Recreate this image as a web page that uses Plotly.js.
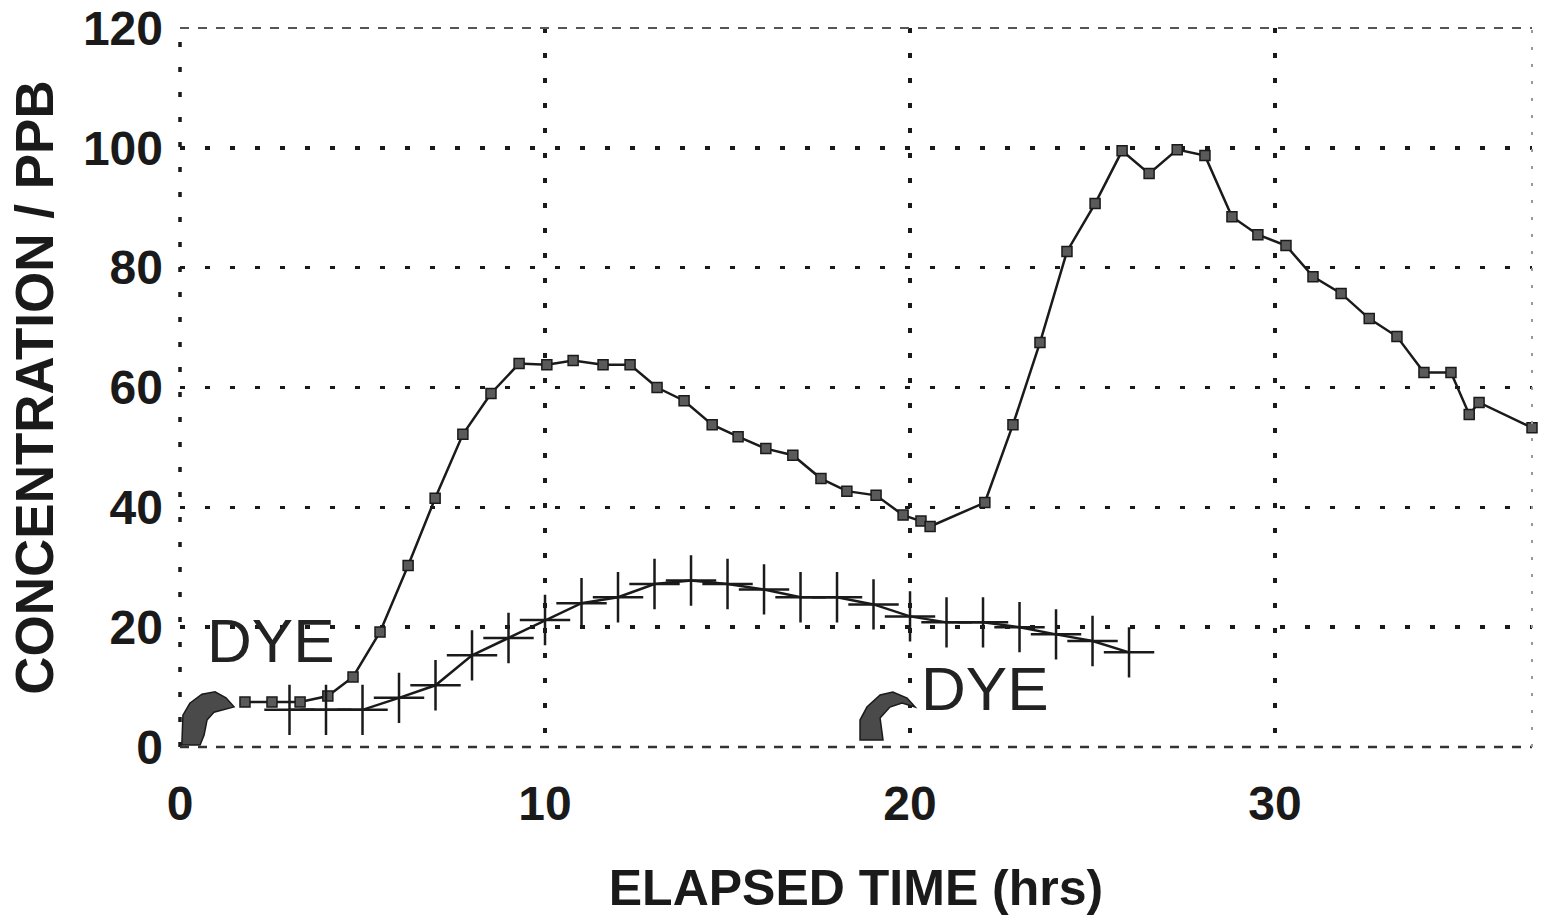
<!DOCTYPE html>
<html>
<head>
<meta charset="utf-8">
<script src="https://cdn.plot.ly/plotly-3.0.1.min.js"></script>
<style>
  html, body { margin: 0; padding: 0; background: #ffffff; }
  #chart { width: 1541px; height: 917px; }
</style>
</head>
<body>
<div id="chart"></div>
<script>
// Square-marker series (upper curve)
const squareHours = [1.78, 2.52, 3.29, 4.05, 4.74, 5.48, 6.25, 6.99, 7.75, 8.52, 9.29, 10.05, 10.77, 11.59, 12.33, 13.07, 13.81, 14.58, 15.29, 16.05, 16.79, 17.56, 18.27, 19.07, 19.81, 20.30, 20.55, 22.05, 22.82, 23.56, 24.30, 25.07, 25.81, 26.55, 27.32, 28.08, 28.82, 29.53, 30.30, 31.04, 31.81, 32.58, 33.34, 34.08, 34.82, 35.32, 35.59, 37.04];
const squarePPB   = [7.5, 7.5, 7.5, 8.5, 11.7, 19.2, 30.3, 41.5, 52.2, 59.0, 64.0, 63.8, 64.5, 63.8, 63.8, 60.0, 57.8, 53.8, 51.8, 49.8, 48.7, 44.8, 42.7, 42.0, 38.7, 37.7, 36.8, 40.8, 53.8, 67.5, 82.7, 90.7, 99.5, 95.7, 99.7, 98.7, 88.5, 85.5, 83.7, 78.5, 75.7, 71.5, 68.5, 62.5, 62.5, 55.5, 57.5, 53.3];

// Cross-marker series (lower curve)
const crossHours = [3, 4, 5, 6, 7, 8, 9, 10, 11, 12, 13, 14, 15, 16, 17, 18, 19, 20, 21, 22, 23, 24, 25, 26];
const crossPPB   = [6.2, 6.2, 6.2, 8.2, 10.3, 15.3, 18.2, 21.2, 24.0, 25.0, 27.2, 27.8, 27.2, 26.3, 25.0, 25.0, 23.8, 21.8, 20.8, 20.8, 20.0, 18.8, 17.7, 15.8];

// Axes
const xTicks = [0, 10, 20, 30];
const yTicks = [0, 20, 40, 60, 80, 100, 120];
const xMax = 37.04;
const yMax = 120;

// Annotation labels
const dyeLabels = [
  {text: 'DYE', x: 2.47, y: 17.7},
  {text: 'DYE', x: 22.03, y: 9.7}
];

const FONT = 'Liberation Sans, Arial, Helvetica, sans-serif';
const INK = '#1a1a1a';

const traces = [
  {
    x: squareHours, y: squarePPB,
    type: 'scatter', mode: 'lines+markers',
    line: {color: INK, width: 2.5},
    marker: {symbol: 'square', size: 10, color: '#5a5a5a', line: {color: INK, width: 1.5}},
    cliponaxis: false,
    showlegend: false
  },
  {
    x: crossHours, y: crossPPB,
    type: 'scatter', mode: 'lines+markers',
    line: {color: INK, width: 2.5},
    marker: {symbol: 'cross-thin-open', size: 36, color: INK, line: {color: INK, width: 2.5}},
    cliponaxis: false,
    showlegend: false
  }
];

// Hand-drawn dye arrows (decorations)
const blob1 = 'M0.05,0.33 L0.55,0.33 L0.66,2.0 L0.74,4.5 L0.93,5.8 L1.48,6.7 L1.26,8.2 L0.96,9.2 L0.60,8.8 L0.27,7.3 L0.08,5.3 Z';
const blob2 = 'M18.63,1.17 L19.26,1.17 L19.18,4.83 L19.45,6.67 L19.78,7.33 L20.14,6.67 L19.92,8.17 L19.53,9.17 L19.18,8.67 L18.82,6.67 L18.63,4.5 Z';

const gridDash = '5px,20px';
const borderDash = '9px,9px';

const layout = {
  width: 1541, height: 917,
  margin: {l: 180, r: 9, t: 28, b: 170},
  paper_bgcolor: '#ffffff', plot_bgcolor: '#ffffff',
  font: {family: FONT, color: INK},
  xaxis: {
    range: [0, xMax],
    tickmode: 'array', tickvals: xTicks, ticktext: xTicks.map(String),
    showgrid: true, gridcolor: INK, gridwidth: 3.5, griddash: gridDash,
    zeroline: false, showline: false,
    ticks: '', ticklabelstandoff: 24,
    tickfont: {family: FONT, size: 48, weight: 'bold', color: INK},
    title: {text: 'ELAPSED TIME (hrs)', font: {family: FONT, size: 50, weight: 'bold', color: INK}, standoff: 40},
    automargin: false
  },
  yaxis: {
    range: [0, yMax],
    tickmode: 'array', tickvals: yTicks, ticktext: yTicks.map(String),
    showgrid: true, gridcolor: INK, gridwidth: 3.5, griddash: gridDash,
    zeroline: false, showline: false,
    ticks: '', ticklabelstandoff: 16,
    tickfont: {family: FONT, size: 48, weight: 'bold', color: INK},
    title: {text: 'CONCENTRATION / PPB', font: {family: FONT, size: 53, weight: 'bold', color: INK}, standoff: 12},
    automargin: false
  },
  shapes: [
    {type: 'path', xref: 'x', yref: 'y', path: blob1, fillcolor: '#4a4a4a', line: {color: INK, width: 1.5}},
    {type: 'path', xref: 'x', yref: 'y', path: blob2, fillcolor: '#4a4a4a', line: {color: INK, width: 1.5}},
    // plot frame: dotted left, dashed top and bottom, faint right
    {type: 'line', xref: 'paper', yref: 'paper', x0: 0, x1: 0, y0: 0, y1: 1, line: {color: INK, width: 3.5, dash: gridDash}},
    {type: 'line', xref: 'paper', yref: 'paper', x0: 0, x1: 1, y0: 1, y1: 1, line: {color: '#555555', width: 2, dash: borderDash}},
    {type: 'line', xref: 'paper', yref: 'paper', x0: 0, x1: 1, y0: 0, y1: 0, line: {color: '#333333', width: 2.5, dash: borderDash}},
    {type: 'line', xref: 'paper', yref: 'paper', x0: 1, x1: 1, y0: 0, y1: 1, line: {color: '#9a9a9a', width: 2, dash: '3px,14px'}}
  ],
  annotations: dyeLabels.map(d => ({
    text: d.text, x: d.x, y: d.y, xref: 'x', yref: 'y',
    showarrow: false, xanchor: 'center', yanchor: 'middle',
    font: {family: FONT, size: 62, color: '#222222'}
  }))
};

Plotly.newPlot('chart', traces, layout, {displayModeBar: false, staticPlot: true});
</script>
</body>
</html>
